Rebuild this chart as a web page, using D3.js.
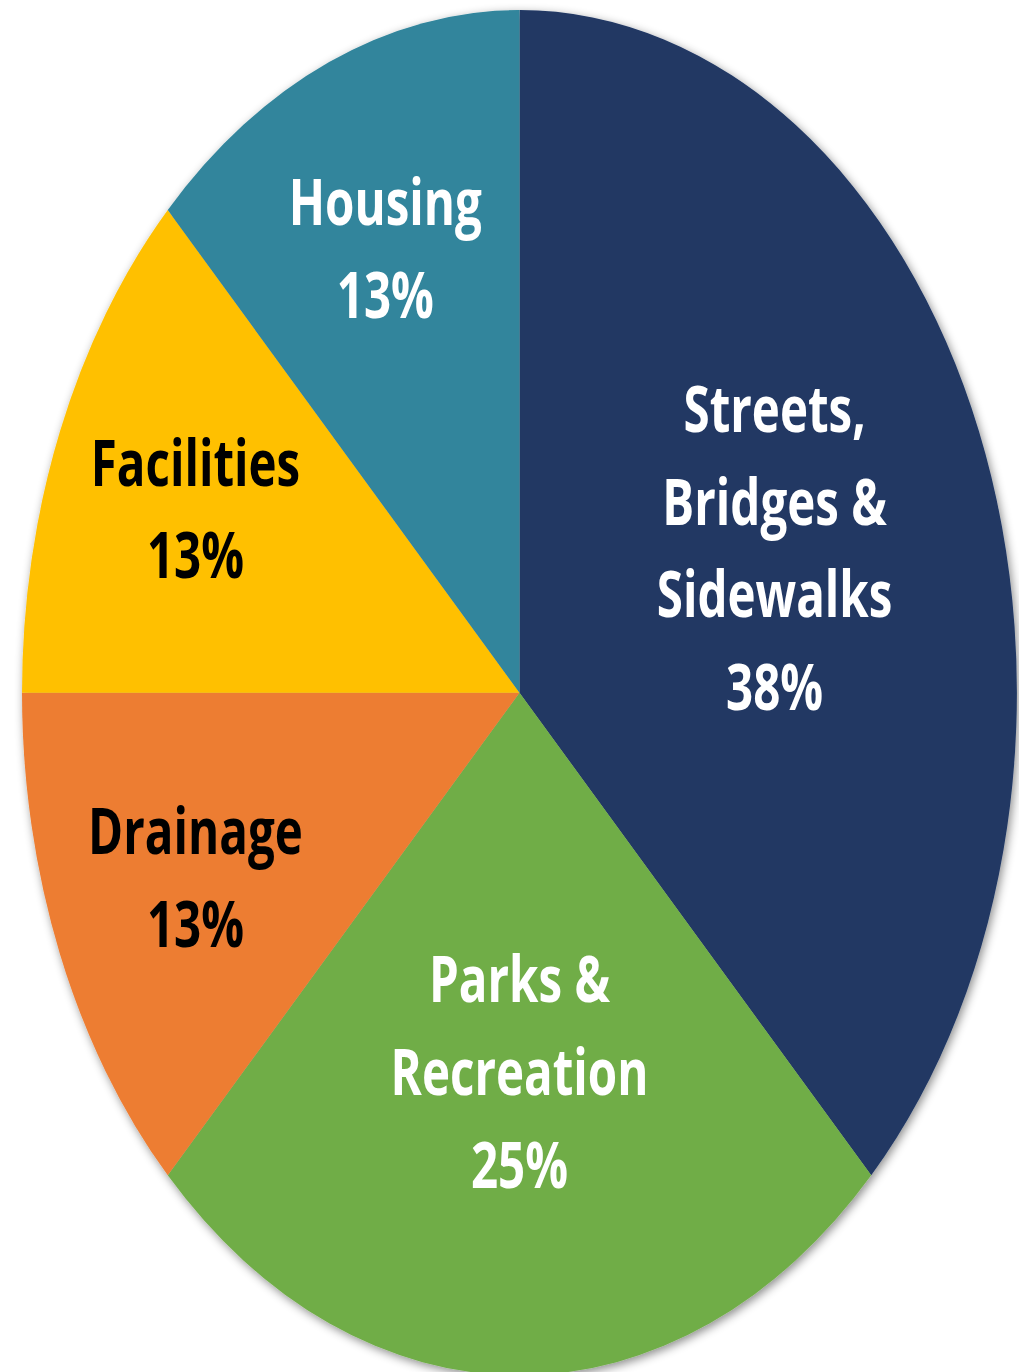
<!DOCTYPE html>
<html>
<head>
<meta charset="utf-8">
<script src="https://cdn.jsdelivr.net/npm/d3@7"></script>
<style>
  body { margin: 0; background: #fff; }
  text { font-family: "Open Sans", "Noto Sans", sans-serif; font-weight: 700; }
</style>
</head>
<body>
<div id="chart"></div>
<script>
var width = 1019,
    height = 1372;

// data, clockwise from 12 o'clock
var categories = ["Streets,|Bridges &|Sidewalks", "Parks &|Recreation", "Drainage", "Facilities", "Housing"];
var values = [37.5, 25, 12.5, 12.5, 12.5];
var colors = ["#203864", "#70AD47", "#ED7D31", "#FFC000", "#31859C"];
var textColors = ["#ffffff", "#ffffff", "#000000", "#000000", "#ffffff"];

// the pie is drawn on a unit circle and stretched into an ellipse
var cx = 519.5, cy = 692.7,
    rx = 497.5, ry = 682.7,
    sy = ry / rx;

var svg = d3.select("#chart")
    .append("svg")
        .attr("width", width)
        .attr("height", height);

var defs = svg.append("defs");
var shadow = defs.append("filter")
    .attr("id", "shadow")
    .attr("x", "-10%").attr("y", "-10%")
    .attr("width", "120%").attr("height", "120%");
shadow.append("feDropShadow")
    .attr("dx", 2).attr("dy", 3)
    .attr("stdDeviation", 5)
    .attr("flood-color", "#000")
    .attr("flood-opacity", 0.45);

var pie = d3.pie().sort(null).value(function(d) { return d; });
var arcs = pie(values);

var arc = d3.arc().innerRadius(0).outerRadius(1);

var pieG = svg.append("g")
    .attr("filter", "url(#shadow)")
  .append("g")
    .attr("transform", "translate(" + cx + "," + cy + ") scale(" + rx + "," + ry + ")");

pieG.selectAll("path")
    .data(arcs)
  .enter().append("path")
    .attr("d", arc)
    .attr("fill", function(d, i) { return colors[i]; });

// labels
var fontSize = 47.5,
    lineH = 67.5;

var labels = svg.selectAll(".label")
    .data(arcs)
  .enter().append("g")
    .attr("class", "label")
    .attr("transform", function(d) {
        var r = (d.endAngle - d.startAngle) > 1 ? 0.555 : 0.705;
        var c = d3.arc().innerRadius(r).outerRadius(r).centroid(d);
        return "translate(" + (cx + c[0] * rx) + "," + (cy + c[1] * ry) + ") scale(1," + sy + ")";
    });

labels.each(function(d, i) {
    var lines = categories[i].split("|");
    lines.push(Math.round(values[i]) + "%");
    var n = lines.length;
    var t = d3.select(this).append("text")
        .attr("text-anchor", "middle")
        .attr("font-size", fontSize)
        .attr("fill", textColors[i]);
    lines.forEach(function(s, k) {
        t.append("tspan")
            .attr("x", 0)
            .attr("y", (k - (n - 1) / 2) * lineH + fontSize * 0.36)
            .text(s);
    });
});
</script>
</body>
</html>
